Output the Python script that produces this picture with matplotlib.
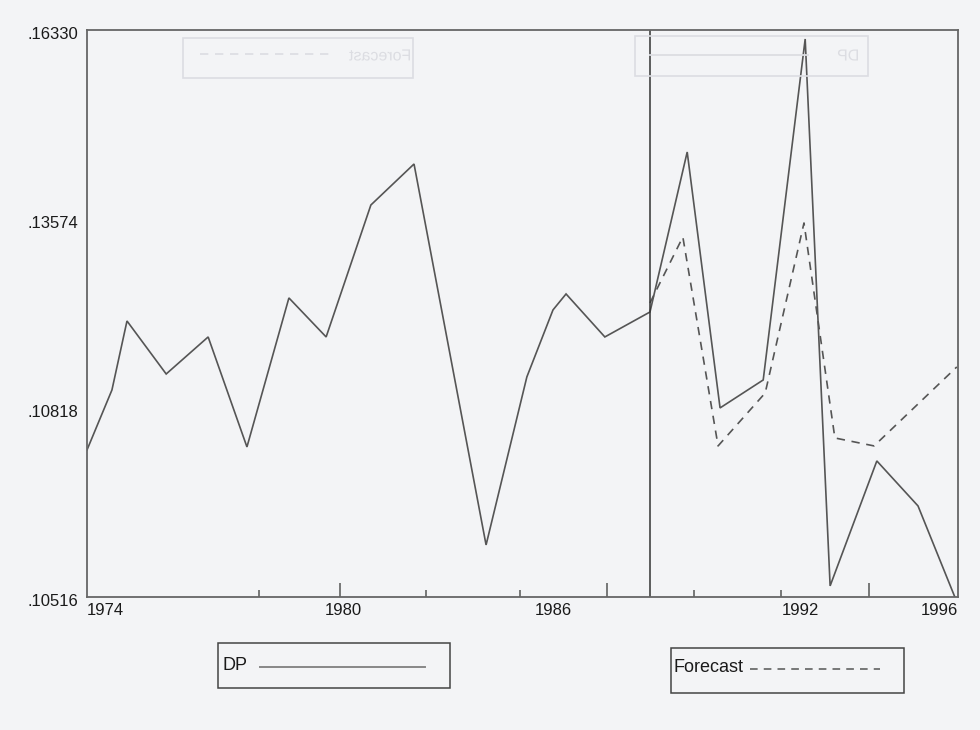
import matplotlib
matplotlib.use("Agg")
import matplotlib.pyplot as plt
from matplotlib.textpath import TextPath
from matplotlib.patches import PathPatch, Rectangle
from matplotlib.font_manager import FontProperties
from matplotlib.transforms import Affine2D
from matplotlib.lines import Line2D

plt.rcParams['font.family'] = ['Liberation Sans', 'DejaVu Sans']

# ---- data ----
dp_years = [1974.00, 1974.63, 1975.01, 1976.00, 1977.06, 1978.04, 1979.10, 1980.04,
            1981.17, 1982.26, 1984.08, 1985.11, 1985.77, 1986.10, 1987.08, 1988.22,
            1989.16, 1989.99, 1991.08, 1992.14, 1992.77, 1993.95, 1994.99, 1995.92]
dp_values = [0.10206, 0.11081, 0.12087, 0.11314, 0.11854, 0.10250, 0.12423, 0.11854,
             0.13778, 0.14376, 0.08821, 0.11271, 0.12248, 0.12481, 0.11854, 0.12218,
             0.14551, 0.10819, 0.11227, 0.16199, 0.08224, 0.10046, 0.09390, 0.08062]

fc_years = [1988.22, 1989.05, 1989.94, 1991.13, 1992.11, 1992.89, 1993.88, 1995.97]
fc_values = [0.12350, 0.13312, 0.10265, 0.11037, 0.13516, 0.10381, 0.10265, 0.11417]

forecast_start = 1988.22

y_tick_values = [0.16330, 0.13574, 0.10818, 0.08062]
y_tick_labels = ['.16330', '.13574', '.10818', '.10516']

x_label_pos = [1974.0, 1980.47, 1985.77, 1992.01, 1996.0]
x_labels = ['1974', '1980', '1986', '1992', '1996']
x_long_ticks = [1980.39, 1987.13, 1993.75]
x_short_ticks = [1978.34, 1982.56, 1984.94, 1989.33, 1991.53]

paper = '#f3f4f6'
ink = '#555555'

fig = plt.figure(figsize=(9.8, 7.3), dpi=100, facecolor=paper)
ax = fig.add_axes([87/980, 1-597/730, (958-87)/980, (597-30)/730])
ax.set_facecolor(paper)

ax.plot(dp_years, dp_values, color=ink, lw=1.2, solid_joinstyle='miter')
ax.plot(fc_years, fc_values, color=ink, lw=1.2, ls=(0, (5, 4)))
ax.axvline(forecast_start, color='#333333', lw=1.1)

ax.set_xlim(1974.0, 1996.0)
ax.set_ylim(0.08062, 0.16330)

for s in ax.spines.values():
    s.set_color('#666666')
    s.set_linewidth(1.3)

ax.set_yticks(y_tick_values, y_tick_labels)
ax.tick_params(axis='y', length=0, pad=6, labelsize=12, labelcolor='#1a1a1a')
for lab in ax.get_yticklabels():
    lab.set_transform(lab.get_transform() + Affine2D().translate(0, -3))

ax.set_xticks(x_label_pos, x_labels)
ax.tick_params(axis='x', which='major', length=0, pad=4, labelsize=12, labelcolor='#1a1a1a')
xl = ax.get_xticklabels()
xl[0].set_ha('left')
xl[-1].set_ha('right')
ax.set_xticks(x_short_ticks, minor=True)
ax.tick_params(axis='x', which='minor', length=5, direction='in', color='#555555', width=1.1)
sec = ax.secondary_xaxis('bottom')
sec.set_xticks(x_long_ticks, labels=['', '', ''])
sec.tick_params(length=10, direction='in', color='#555555', width=1.1)
sec.spines['bottom'].set_visible(False)

# ---- bottom legends (boxes) ----
def fig_rect(x0, y0, x1, y1, color, lw):
    r = Rectangle((x0/980, 1-y1/730), (x1-x0)/980, (y1-y0)/730, transform=fig.transFigure,
                  fill=False, edgecolor=color, lw=lw)
    fig.add_artist(r)

fig_rect(218, 643, 450, 688, '#444444', 1.1)
fig.text(222/980, 1-666/730, 'DP', fontsize=13, va='center', ha='left', color='#1a1a1a')
fig.add_artist(Line2D([260/980, 425/980], [1-667/730, 1-667/730], transform=fig.transFigure,
                      color='#888888', lw=1.4))

fig_rect(671, 648, 904, 693, '#444444', 1.1)
fig.text(673/980, 1-668/730, 'Forecast', fontsize=13, va='center', ha='left', color='#1a1a1a')
fig.add_artist(Line2D([750/980, 880/980], [1-669/730, 1-669/730], transform=fig.transFigure,
                      color='#555555', lw=1.1, ls=(0, (5, 4))))

# ---- faint show-through of the legends from the back of the page ----
ghost = '#dcdde2'
fig_rect(183, 38, 413, 78, ghost, 1.2)
fig_rect(635, 36, 868, 76, ghost, 1.2)
fig.add_artist(Line2D([200/980, 330/980], [1-54/730, 1-54/730], transform=fig.transFigure,
                      color=ghost, lw=1.2, ls=(0, (5, 4))))
fig.add_artist(Line2D([650/980, 808/980], [1-55/730, 1-55/730], transform=fig.transFigure,
                      color=ghost, lw=1.3))
fp = FontProperties(family='Liberation Sans')

def mirrored(txt, x_right_px, y_px, size):
    tp = TextPath((0, 0), txt, size=size, prop=fp)
    ext = tp.get_extents()
    tr = (Affine2D().translate(-ext.x0, -(ext.y0 + ext.y1)/2).scale(-1, 1)
          .translate(x_right_px, 730 - y_px))
    p = tr.transform_path(tp)
    patch = PathPatch(p, facecolor=ghost, edgecolor='none')
    patch.set_transform(Affine2D().scale(1/980, 1/730) + fig.transFigure)
    fig.add_artist(patch)

mirrored('Forecast', 410, 55, 16)
mirrored('DP', 858, 55, 16)

fig.savefig('out.png', dpi=100, facecolor=paper)
